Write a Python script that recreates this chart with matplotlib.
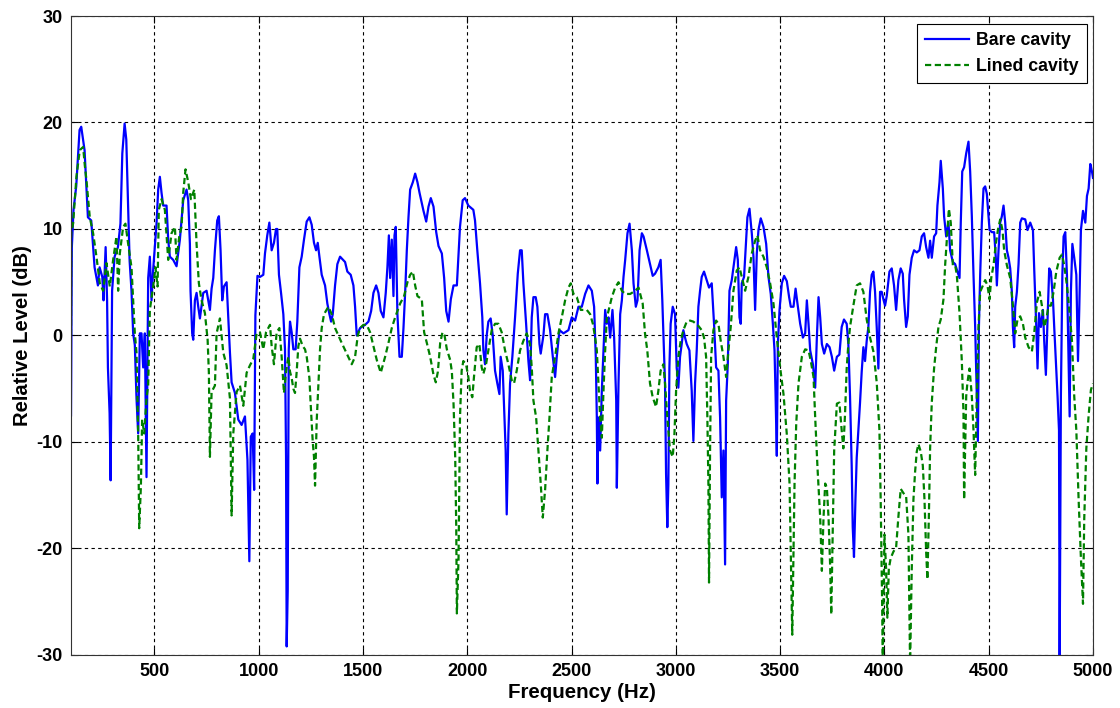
import numpy as np
import matplotlib
matplotlib.use('Agg')
import matplotlib.pyplot as plt

plt.rcParams['axes.unicode_minus'] = False  # MATLAB 风格的短横负号

# 裸腔 (Bare cavity) 频响
bare_freq = [100, 104, 112, 125, 141, 149, 165, 181, 197, 213, 229, 237, 250, 256, 266, 273, 277, 285, 290, 297,
             309, 325, 337, 346, 357, 365, 373, 381, 390, 398, 406, 414, 422, 430, 438, 446, 454, 462, 470, 478,
             486, 494, 502, 510, 518, 526, 534, 542, 558, 566, 574, 590, 606, 622, 638, 654, 662, 670, 673, 681,
             686, 694, 702, 710, 718, 734, 750, 766, 774, 782, 790, 801, 809, 817, 825, 833, 846, 854, 862, 870,
             886, 902, 918, 934, 946, 955, 962, 971, 978, 984, 994, 1006, 1022, 1030, 1041, 1051, 1062, 1073, 1083, 1089,
             1097, 1107, 1118, 1126, 1131, 1134, 1139, 1144, 1150, 1158, 1166, 1177, 1185, 1195, 1206, 1217, 1230, 1243, 1254, 1265,
             1275, 1283, 1291, 1302, 1318, 1329, 1339, 1347, 1355, 1366, 1377, 1390, 1414, 1425, 1441, 1454, 1462, 1470, 1486, 1510,
             1526, 1539, 1550, 1563, 1574, 1585, 1598, 1609, 1617, 1624, 1630, 1638, 1646, 1651, 1657, 1665, 1675, 1686, 1694, 1702,
             1710, 1718, 1726, 1739, 1750, 1761, 1771, 1782, 1790, 1803, 1814, 1825, 1838, 1851, 1862, 1878, 1889, 1899, 1910, 1921,
             1934, 1950, 1965, 1978, 1989, 2005, 2029, 2037, 2048, 2061, 2072, 2077, 2085, 2093, 2101, 2112, 2122, 2133, 2144, 2154,
             2160, 2170, 2178, 2184, 2189, 2197, 2205, 2216, 2229, 2242, 2253, 2261, 2269, 2282, 2293, 2301, 2309, 2317, 2328, 2336,
             2346, 2352, 2365, 2373, 2384, 2397, 2410, 2421, 2429, 2442, 2461, 2485, 2501, 2517, 2533, 2549, 2565, 2581, 2597, 2608,
             2616, 2621, 2624, 2629, 2637, 2645, 2653, 2661, 2669, 2677, 2685, 2696, 2704, 2714, 2717, 2725, 2733, 2741, 2749, 2757,
             2768, 2778, 2789, 2797, 2808, 2816, 2826, 2837, 2845, 2861, 2876, 2889, 2900, 2916, 2927, 2935, 2943, 2948, 2953, 2959,
             2964, 2969, 2975, 2985, 2996, 3004, 3012, 3020, 3028, 3036, 3044, 3052, 3065, 3076, 3084, 3092, 3100, 3108, 3116, 3124,
             3135, 3148, 3159, 3172, 3183, 3193, 3204, 3212, 3220, 3228, 3236, 3241, 3249, 3257, 3268, 3276, 3289, 3297, 3305, 3311,
             3316, 3327, 3337, 3343, 3353, 3364, 3372, 3380, 3388, 3396, 3407, 3420, 3433, 3444, 3455, 3465, 3473, 3478, 3484, 3489,
             3497, 3508, 3519, 3532, 3543, 3551, 3564, 3574, 3583, 3596, 3609, 3620, 3628, 3636, 3644, 3657, 3668, 3676, 3684, 3692,
             3700, 3711, 3724, 3737, 3748, 3759, 3772, 3784, 3795, 3806, 3819, 3827, 3835, 3843, 3848, 3854, 3861, 3867, 3875, 3883,
             3891, 3899, 3907, 3915, 3923, 3931, 3939, 3947, 3955, 3963, 3971, 3979, 3987, 3995, 4003, 4011, 4024, 4035, 4046, 4056,
             4067, 4078, 4088, 4094, 4104, 4112, 4120, 4131, 4142, 4155, 4168, 4179, 4190, 4200, 4211, 4219, 4227, 4238, 4248, 4254,
             4264, 4270, 4280, 4286, 4296, 4307, 4315, 4328, 4339, 4350, 4360, 4366, 4373, 4382, 4392, 4403, 4411, 4419, 4427, 4435,
             4443, 4448, 4453, 4459, 4467, 4475, 4483, 4491, 4504, 4515, 4526, 4534, 4539, 4547, 4555, 4563, 4571, 4579, 4587, 4595,
             4603, 4611, 4616, 4622, 4627, 4635, 4643, 4651, 4659, 4675, 4686, 4699, 4712, 4718, 4728, 4734, 4741, 4750, 4760, 4766,
             4774, 4782, 4790, 4798, 4808, 4814, 4822, 4830, 4837, 4840, 4846, 4853, 4859, 4867, 4875, 4883, 4888, 4894, 4901, 4910,
             4920, 4928, 4934, 4942, 4952, 4963, 4971, 4979, 4987, 4995, 5000]
bare_level = [-7.5, 8.3, 11.8, 14, 19.3, 19.6, 17.4, 11.1, 10.8, 6.4, 4.7, 6.4, 5.5, 3.3, 8.3, 3.3, -3, -7.3, -13.6, 4.2,
              7.4, 8.3, 10.5, 17.1, 19.9, 18.4, 12.7, 7, 4.2, 0.2, -0.9, -5.9, -9.2, 0.2, 0.2, -3, 0.2, -13.3, 5.4, 7.4,
              3.3, 6.2, 8.3, 10.5, 13.7, 14.9, 13.4, 12.2, 12.2, 9, 7.4, 7.1, 6.5, 9, 12.7, 13.7, 12.7, 8.6, 4.2, 0.2,
              -0.4, 3.3, 4, 2.7, 1.6, 4, 4.2, 2.4, 4.4, 5.4, 8, 10.8, 11.2, 8, 3.3, 4.6, 5, 1.6, -1.6, -4.4,
              -5.4, -7.9, -8.4, -7.6, -11.7, -21.2, -9.5, -9.2, -14.5, 1.9, 5.6, 5.5, 5.7, 7.7, 9.4, 10.6, 8, 8.7, 10, 10,
              5.7, 4, 2, -1.3, -11.4, -29.2, -24, -1.3, 1.3, 0.3, -1.3, -1.3, 1.3, 6.4, 7.4, 9, 10.7, 11.1, 10.4, 8.7,
              8, 8.7, 7.4, 5.7, 4.7, 3, 2, 1.3, 2, 4.7, 6.7, 7.4, 6.9, 6, 5.7, 4.7, 2.7, 0, 0.7, 1,
              1.3, 2.3, 4, 4.7, 4, 2.3, 1.7, 4, 6.4, 9.4, 5.4, 9, 3.7, 9.4, 10.2, 2, -2, -2, 0.7, 4,
              8, 11.1, 13.7, 14.4, 15.2, 14.4, 13.4, 12.4, 11.7, 10.7, 12.1, 12.9, 12.1, 9.7, 8.4, 7.7, 5.4, 2.3, 1.3, 3.4,
              4.7, 4.7, 10.2, 12.7, 12.9, 12.2, 11.8, 10.8, 8, 4.9, 1.7, -1.4, -2.7, 0, 1.3, 1.6, 0, -3.3, -4.5, -5.5,
              -2, -3.3, -7.7, -10.8, -16.8, -9.2, -4.5, -2, 1.7, 5.8, 8, 8, 4.9, 1.1, -2.4, -4.2, 1.7, 3.6, 3.6, 2.7,
              -0.8, -1.7, 0, 2, 2, 0.5, -2, -3.9, -2, 0.5, 0.2, 0.5, 1.7, 1.4, 2.7, 2.7, 3.9, 4.7, 4.2, 2.7,
              -2, -7.7, -13.9, -7.7, -10.8, -5.2, -1.4, 2.4, 1.1, 1.7, -0.2, 2.4, -0.2, -6.1, -14.3, -4.5, 2, 3.3, 5.5, 7.1,
              9.6, 10.5, 8, 4.9, 2.7, 3.3, 8, 9.6, 9.3, 8, 6.7, 5.6, 5.8, 6.4, 7.1, 3.3, -1.4, -4.5, -13, -18,
              -14, -3, 1.1, 2.7, 2, -3, -4.9, -2, -0.8, 0.5, -0.2, -0.8, -1.4, -5.2, -9.9, -4.5, -1.4, 2.7, 4.2, 5.5,
              6, 5.2, 4.5, 4.9, 1.1, -3, -3.3, -7.7, -15.2, -10.8, -21.5, -6.1, -2.7, 4.2, 5.2, 6.4, 8.3, 7.1, 1.7, 1.1,
              4.9, 5.5, 8.9, 11.1, 11.9, 9.6, 7.4, 2.4, 7.7, 9.9, 11, 10.2, 8.6, 5.5, 3.9, 1.1, -1.4, -5.5, -11.3, -0.8,
              2.4, 4.9, 5.6, 5.1, 3.6, 2.7, 2.7, 4.4, 3, 1.1, -0.2, 0.2, 3.3, 1.1, -1.4, -2.7, -4.9, -0.2, 3.6, 1.7,
              -0.8, -1.7, -0.8, -1.1, -2, -3.3, -2, -1.8, 0.8, 1.5, 1.1, -0.8, -5.7, -12.2, -18, -20.8, -15.4, -11.5, -8.9, -6.3,
              -3.4, -1.1, -2.4, -0.5, 0.8, 4.1, 5.7, 6, 4.1, 0.8, -3.1, 4.1, 4.1, 3.4, 2.8, 3.7, 6, 6.3, 4.7, 2.4,
              5.2, 6.3, 5.8, 3.4, 0.8, 1.8, 5.7, 7.3, 8, 7.8, 8, 9.3, 9.6, 8.3, 7.3, 8.9, 7.3, 9.3, 9.6, 12.2,
              14.4, 16.4, 13.8, 11.2, 9.3, 10.6, 8, 6.9, 6.7, 6, 5.4, 10.6, 15.4, 15.8, 17.1, 18.2, 15.4, 11.2, 5.7, 0.8,
              -5.7, -9.9, 0.8, 5.7, 10.6, 13.8, 14, 13.3, 9.9, 9.7, 9.7, 7.3, 4.7, 8, 10.6, 11.2, 12.2, 10.6, 8, 7.3,
              6.3, 4.1, 0.8, -1.1, 2.7, 4.1, 6.7, 10.6, 11, 10.9, 9.9, 10.6, 9.9, 6.3, 0.8, -3.1, 2.1, 0.8, 2.4, -0.5,
              -3.7, 1.5, 6.3, 6, 3.4, 0.8, -2.4, -5.7, -8.9, -31, -5.7, 5.7, 9.3, 9.7, 5.7, -2.4, -7.6, 4.1, 8.6, 7.3,
              5.7, -2.4, 2.4, 9.9, 11.7, 10.6, 13.1, 13.8, 16.1, 15.4, 14.8]

# 内衬腔 (Lined cavity) 频响
lined_freq = [100, 101, 110, 126, 142, 158, 166, 174, 182, 190, 206, 222, 238, 254, 270, 286, 302, 318, 326, 334,
              350, 361, 374, 390, 406, 414, 422, 427, 435, 441, 451, 462, 470, 478, 494, 505, 515, 521, 534, 550,
              566, 582, 598, 606, 619, 630, 638, 649, 662, 675, 691, 702, 713, 726, 742, 755, 761, 766, 774, 790,
              798, 814, 830, 846, 862, 870, 878, 894, 910, 926, 942, 958, 974, 990, 1006, 1022, 1035, 1046, 1054, 1062,
              1073, 1086, 1099, 1110, 1121, 1131, 1142, 1150, 1158, 1166, 1174, 1182, 1190, 1198, 1211, 1222, 1230, 1243, 1249, 1259,
              1265, 1270, 1278, 1286, 1294, 1302, 1313, 1334, 1350, 1366, 1382, 1398, 1422, 1446, 1462, 1475, 1486, 1502, 1518, 1534,
              1550, 1566, 1585, 1606, 1622, 1638, 1654, 1678, 1697, 1713, 1726, 1739, 1750, 1761, 1782, 1793, 1806, 1822, 1838, 1849,
              1859, 1870, 1881, 1891, 1902, 1918, 1926, 1934, 1942, 1947, 1950, 1958, 1965, 1973, 1981, 1994, 2005, 2013, 2024, 2032,
              2045, 2058, 2069, 2077, 2090, 2101, 2117, 2133, 2149, 2165, 2181, 2197, 2213, 2224, 2237, 2253, 2269, 2285, 2301, 2309,
              2317, 2330, 2341, 2352, 2362, 2373, 2384, 2394, 2405, 2421, 2437, 2453, 2469, 2485, 2496, 2509, 2525, 2544, 2557, 2573,
              2589, 2602, 2613, 2621, 2629, 2637, 2645, 2653, 2661, 2669, 2682, 2693, 2709, 2725, 2741, 2757, 2781, 2805, 2821, 2841,
              2852, 2863, 2876, 2889, 2905, 2916, 2927, 2940, 2948, 2959, 2972, 2985, 2993, 3001, 3012, 3023, 3036, 3052, 3068, 3084,
              3108, 3124, 3135, 3145, 3151, 3156, 3159, 3164, 3169, 3180, 3193, 3204, 3215, 3228, 3241, 3252, 3263, 3276, 3292, 3305,
              3316, 3332, 3348, 3364, 3380, 3391, 3404, 3420, 3436, 3452, 3468, 3484, 3500, 3516, 3532, 3545, 3551, 3558, 3564, 3569,
              3577, 3588, 3604, 3620, 3636, 3647, 3660, 3668, 3679, 3692, 3700, 3708, 3716, 3724, 3732, 3740, 3745, 3753, 3759, 3772,
              3784, 3795, 3803, 3811, 3819, 3827, 3835, 3851, 3867, 3883, 3899, 3915, 3931, 3947, 3963, 3976, 3982, 3989, 3992, 4000,
              4008, 4014, 4021, 4030, 4043, 4056, 4067, 4078, 4091, 4104, 4115, 4123, 4131, 4139, 4147, 4155, 4163, 4174, 4184, 4192,
              4200, 4206, 4213, 4219, 4227, 4238, 4248, 4259, 4270, 4283, 4291, 4299, 4309, 4318, 4328, 4339, 4347, 4360, 4371, 4379,
              4382, 4392, 4398, 4408, 4419, 4427, 4435, 4443, 4451, 4459, 4472, 4483, 4494, 4504, 4512, 4523, 4534, 4544, 4555, 4566,
              4574, 4587, 4603, 4616, 4627, 4638, 4651, 4664, 4675, 4691, 4707, 4718, 4731, 4744, 4755, 4766, 4776, 4787, 4798, 4811,
              4824, 4840, 4851, 4862, 4875, 4888, 4899, 4910, 4920, 4931, 4942, 4952, 4958, 4968, 4979, 4990, 5000]
lined_level = [0, 9.6, 10.5, 14.9, 17.4, 17.7, 16, 14.6, 12.8, 11.1, 9.6, 7.4, 4.9, 4.2, 6.8, 4.6, 7.1, 9.3, 4.2, 7.7,
               10.2, 10.5, 8.6, 6.4, 0.2, -1.6, -9.2, -18.1, -14.2, -7.9, -9.2, -5.9, -4.7, 2.4, 4.6, 6.4, 4.6, 11.8, 12.8, 11.8,
               7.1, 9.6, 10.2, 7.1, 9.3, 10.2, 13.4, 15.6, 14.4, 12.8, 13.7, 8.6, 4.9, 3.3, 2.1, -0.4, -3.5, -11.4, -5.3, -4.7,
               0.2, 1.6, -1.6, -2.8, -5.9, -16.9, -9.2, -5.3, -4.7, -6.6, -3.5, -2.8, -2.2, 0.2, 0.3, -1.3, 0.3, 0.7, 1, -1,
               -2.7, 0.3, 0.7, -2, -5.4, -3.4, -2, -3.4, -4, -5, -5.4, -3.4, -1, -0.3, -1, -1.3, -2, -4, -6.4, -10,
               -11.4, -14.1, -8, -4.7, -1.3, 0.7, 2, 2.7, 2, 0.7, 0, -0.7, -1.7, -2.7, -2, 0, 0.7, 1, 1, 0.3,
               -1, -2.3, -3.5, -2, -0.7, 0.7, 1.7, 3, 3.7, 5, 5.7, 6, 4.7, 3.7, 3.4, 0.3, -0.7, -2, -3.7, -4.4,
               -3.4, -0.7, 0.3, 0, -1.3, -2.3, -3.4, -6.4, -11.4, -18, -26.1, -21, -7.7, -3.3, -2.4, -2.7, -3.9, -5.2, -5.8, -3.9,
               -1.1, -0.8, -3, -3.6, -2.7, -1.4, 0.5, 1.1, 1.1, 0.3, -1.4, -2.7, -4.2, -4.5, -3.3, -1.4, -0.5, 0.2, -0.8, -3,
               -6.1, -7.7, -10.8, -13.9, -17.1, -14.5, -10.8, -7.7, -3.9, -2, 0.2, 1.7, 3.3, 4.5, 4.9, 3.9, 3.6, 2.4, 2.4, 2.4,
               2, 1.1, -0.2, -1.4, -4.5, -7.7, -9.6, -5.2, -1.4, 1.7, 2.7, 3.6, 4.5, 5, 4.2, 3.9, 3.9, 4.2, 4.5, 3,
               0.2, -1.4, -4.5, -5.8, -6.7, -5.2, -3.3, -2.7, -4.5, -7.7, -10.8, -11.4, -9.3, -5.2, -2, -0.5, 0.5, 1.3, 1.4, 1.3,
               0.9, 0.5, -0.2, -2, -7.7, -13.9, -23.2, -10.8, -2, 0.5, 1.4, 1.1, -0.5, -2, -3.9, -1.4, 0.8, 4.2, 6.1, 6.4,
               5.5, 4.2, 5.5, 7.7, 8.9, 9.4, 8, 7.4, 6.4, 4.9, 3, -0.2, -3, -5.5, -9.3, -13.9, -20.2, -28.1, -20.2, -13.9,
               -8.3, -4.5, -2, -1.3, -1.4, -2.4, -3.9, -7.7, -12.4, -17.1, -22.1, -17.1, -13.9, -14.3, -17.1, -21.8, -26.2, -17.1, -10.8, -6.4,
               -6.3, -8.9, -10.6, -7.4, -3.1, -0.8, 0.8, 2.8, 4.7, 4.9, 4.1, 1.5, -0.2, -1.5, -4.4, -8.9, -15.4, -25.2, -31, -18.7,
               -21.9, -26.5, -21.9, -20.9, -20.3, -19.9, -17, -14.4, -14.8, -15.1, -18.7, -31, -21.9, -15.4, -12.8, -10.9, -10.2, -10.9, -12.2, -15.4,
               -20.3, -22.9, -17, -10.6, -6.3, -3.1, -1.1, 0.8, 1.5, 3.4, 6.6, 8.9, 11.9, 10.6, 6.6, 6.6, 5.7, 2.1, -2.4, -7.3,
               -15.4, -5.7, -4.4, -3.1, -5.7, -8.9, -13.1, -5.7, 0.8, 4.1, 4.7, 5.2, 4.7, 3.4, 5.4, 6.6, 8.6, 9.9, 10.9, 9.9,
               8, 6.6, 5.4, 2.8, 0.2, 1.5, 1.8, 1.1, -0.2, -1.1, -1.5, 0.2, 3.1, 4.1, 2.8, 0.8, 1.5, 2.8, 2.8, 4.1,
               6, 7.3, 7.6, 6.6, 4.7, 2.1, -0.5, -5.7, -8.9, -15.4, -20.9, -25.2, -17.2, -10.6, -7.5, -5.1, -4.5]

fig = plt.figure(figsize=(11.2, 7.08), dpi=100)
ax = fig.add_axes([0.0634, 0.0749, 0.9125, 0.9025])

ax.plot(bare_freq, bare_level, color='#0000ff', lw=1.6, label='Bare cavity')
ax.plot(lined_freq, lined_level, color='#008000', lw=1.6, linestyle=(0, (2.8, 1.6)), label='Lined cavity')

ax.set_xlim(100, 5000)
ax.set_ylim(-30, 30)
ax.set_xticks(np.arange(500, 5001, 500))
ax.set_yticks(np.arange(-30, 31, 10))
ax.grid(True, color='black', linestyle=(0, (3, 3)), linewidth=0.8)
ax.tick_params(direction='in', top=True, right=True, length=5, labelsize=13, pad=6)
for lab in ax.get_xticklabels() + ax.get_yticklabels():
    lab.set_fontweight('bold')
    lab.set_family('Liberation Sans')
for sp in ax.spines.values():
    sp.set_color('#333333')

ax.set_xlabel('Frequency (Hz)', fontsize=14.8, fontweight='bold', family='Liberation Sans', labelpad=2)
ax.set_ylabel('Relative Level (dB)', fontsize=14.6, fontweight='bold', family='Liberation Sans', labelpad=3)

leg = ax.legend(loc='upper right', bbox_to_anchor=(0.9941, 0.9875), borderaxespad=0,
                fancybox=False, framealpha=1, edgecolor='black',
                prop={'family': 'Liberation Sans', 'weight': 'bold', 'size': 12.8},
                handlelength=2.5, handletextpad=0.4, borderpad=0.45)
leg.get_frame().set_linewidth(0.8)

fig.savefig('out.png', dpi=100)
